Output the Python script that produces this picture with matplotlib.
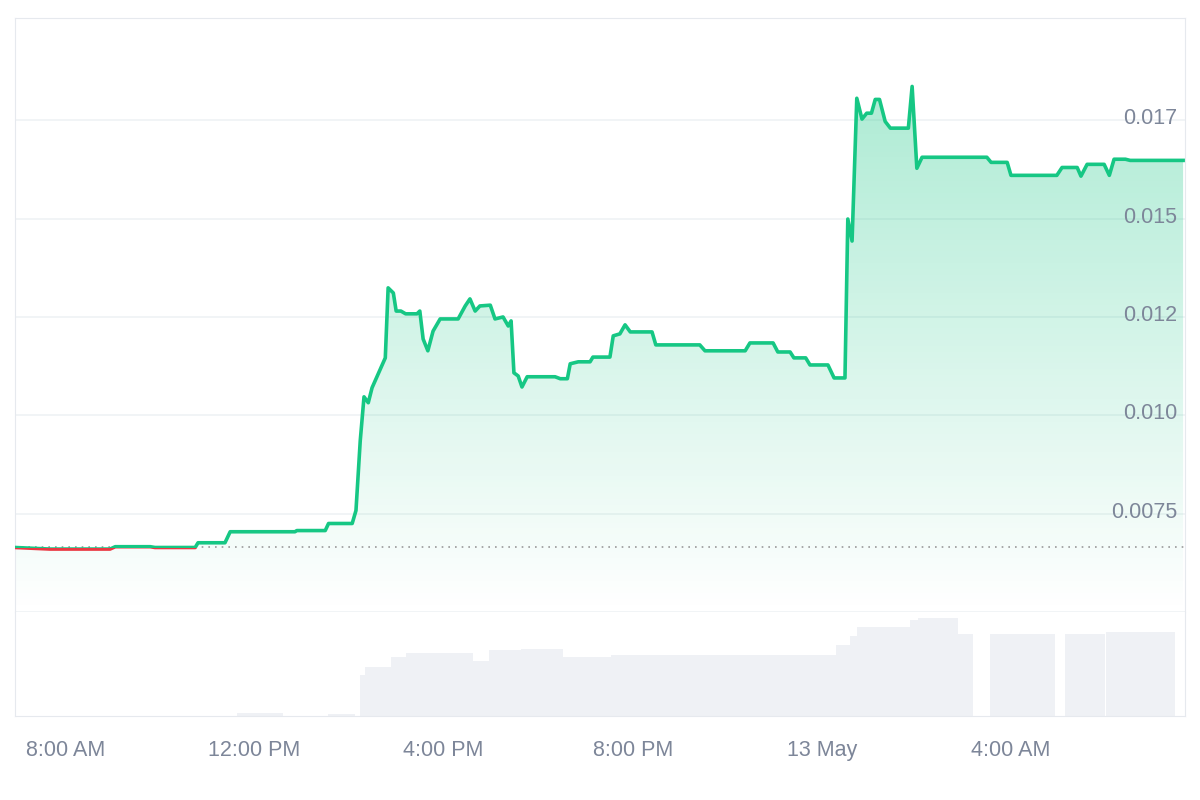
import numpy as np
import matplotlib
matplotlib.use("Agg")
import matplotlib.pyplot as plt
from matplotlib.patches import Rectangle, Polygon

plt.rcParams['font.family'] = ['Liberation Sans', 'DejaVu Sans']

# hours since midnight of 12 May
t = [6.94,7.68,8.95,9.06,9.8,9.9,10.75,10.81,11.38,11.49,12.86,12.9,13.5,13.57,14.07,14.15,14.24,14.32,14.41,14.49,
     14.77,14.83,14.94,15.0,15.1,15.2,15.44,15.5,15.57,15.67,15.78,15.93,16.31,16.46,16.56,16.67,16.77,16.99,17.09,17.26,
     17.37,17.43,17.49,17.58,17.66,17.77,18.36,18.47,18.62,18.68,18.85,19.1,19.16,19.52,19.59,19.73,19.84,19.95,20.41,20.49,
     21.42,21.53,22.38,22.48,22.97,23.07,23.33,23.41,23.66,23.75,24.13,24.26,24.49,24.55,24.64,24.74,24.85,24.95,25.05,25.13,
     25.22,25.34,25.45,25.83,25.91,26.01,26.12,27.49,27.58,27.92,28.0,28.97,29.08,29.4,29.48,29.61,29.97,30.08,30.18,30.42,
     30.52,31.64]
price = [0.00664,0.00660,0.00660,0.00666,0.00666,0.00664,0.00664,0.00676,0.00676,0.00704,0.00704,0.00707,0.00707,0.00725,0.00725,0.00758,0.00935,0.01047,0.01032,0.0107,
         0.01146,0.01324,0.01311,0.01265,0.01265,0.01258,0.01258,0.01265,0.01194,0.01164,0.01214,0.01245,0.01245,0.01278,0.01296,0.01265,0.01278,0.0128,0.01245,0.0125,
         0.01227,0.0124,0.01108,0.011,0.01072,0.01098,0.01098,0.01093,0.01093,0.01131,0.01136,0.01136,0.01148,0.01148,0.01202,0.01207,0.0123,0.01212,0.01212,0.01179,
         0.01179,0.01164,0.01164,0.01184,0.01184,0.01161,0.01161,0.01146,0.01146,0.01128,0.01128,0.01095,0.01095,0.01499,0.01443,0.01806,0.01753,0.01768,0.01768,0.01803,
         0.01803,0.01747,0.0173,0.0173,0.01836,0.01628,0.01656,0.01656,0.01643,0.01643,0.0161,0.0161,0.0163,0.0163,0.01608,0.01638,0.01638,0.0161,0.01651,0.01651,
         0.01648,0.01648]
baseline = 0.00664

vol_start = [11.64,13.56,14.24,14.34,14.89,15.21,16.63,16.96,17.64,18.53,19.54,24.3,24.6,24.74,25.86,26.03,26.88,27.56,29.14,30.01]
vol_end   = [12.61,14.13,14.34,14.89,15.21,16.63,16.96,17.64,18.53,19.54,24.3,24.6,24.74,25.86,26.03,26.88,27.2,28.93,29.99,31.47]
volume    = [3,2,41,49,59,63,55,66,67,59,61,71,80,89,96,98,82,82,82,84]

xtick_pos = [8,12,16,20,24,28]
xtick_lab = ["8:00 AM","12:00 PM","4:00 PM","8:00 PM","13 May","4:00 AM"]
ytick_pos = [0.0075,0.01,0.0125,0.015,0.0175]
ytick_lab = ["0.0075","0.010","0.012","0.015","0.017"]

GREEN = "#16c784"; RED = "#ea3943"; GRAY = "#7d8699"; GRID = "#eff2f5"
XL = (6.94, 31.68); YL = (0.005, 0.0201)

fig = plt.figure(figsize=(12,8), dpi=100)
ax = fig.add_axes([0.0125, 0.235, 0.975, 0.7425])
axv = fig.add_axes([0.0125, 0.105, 0.975, 0.13])

ax.set_xlim(XL); ax.set_ylim(YL)
for y in ytick_pos + [0.005]:
    ax.axhline(y, color=GRID, lw=1.2, zorder=0)
for y, l in zip(ytick_pos, ytick_lab):
    ax.text(31.52, y + 0.00004, l, ha="right", va="center", fontsize=15.5, color=GRAY, zorder=5)

grad = np.linspace(0, 1, 256).reshape(-1, 1)
cmap = matplotlib.colors.LinearSegmentedColormap.from_list("g", [(0.086,0.78,0.52,0.0),(0.086,0.78,0.52,0.35)])
im = ax.imshow(grad, extent=[XL[0], XL[1], YL[0], 0.0184], origin="lower", aspect="auto", cmap=cmap, zorder=1)
poly = Polygon(list(zip(t, price)) + [(t[-1], YL[0]), (t[0], YL[0])], closed=True, transform=ax.transData, fc="none", ec="none")
ax.add_patch(poly)
im.set_clip_path(poly)

ax.axhline(baseline, color="#999", lw=1.2, ls=(0, (1, 3)), zorder=2)
lg, = ax.plot(t, price, color=GREEN, lw=2.6, zorder=3, solid_joinstyle="round")
lr, = ax.plot(t, price, color=RED, lw=2.6, zorder=3)
lg.set_clip_path(Rectangle((XL[0], baseline - 0.00001), XL[1]-XL[0], 1, transform=ax.transData))
lr.set_clip_path(Rectangle((XL[0], 0), XL[1]-XL[0], baseline - 0.00001, transform=ax.transData))

ax.set_xticks([]); ax.set_yticks([])
ax.spines["bottom"].set_visible(False)
for s in ["top","left","right"]:
    ax.spines[s].set_color("#e6e9ee")

axv.set_xlim(XL); axv.set_ylim(0, 104)
w = np.array(vol_end) - np.array(vol_start)
axv.bar(vol_start, volume, width=w, align="edge", color="#eff1f5", edgecolor="none")
axv.set_yticks([])
axv.set_xticks(xtick_pos)
axv.set_xticklabels(xtick_lab, fontsize=15.5, color=GRAY)
axv.tick_params(axis="x", length=0, pad=17)
axv.spines["top"].set_visible(False)
for s in ["bottom","left","right"]:
    axv.spines[s].set_color("#e6e9ee")

fig.savefig("out.png", dpi=100, facecolor="white")
